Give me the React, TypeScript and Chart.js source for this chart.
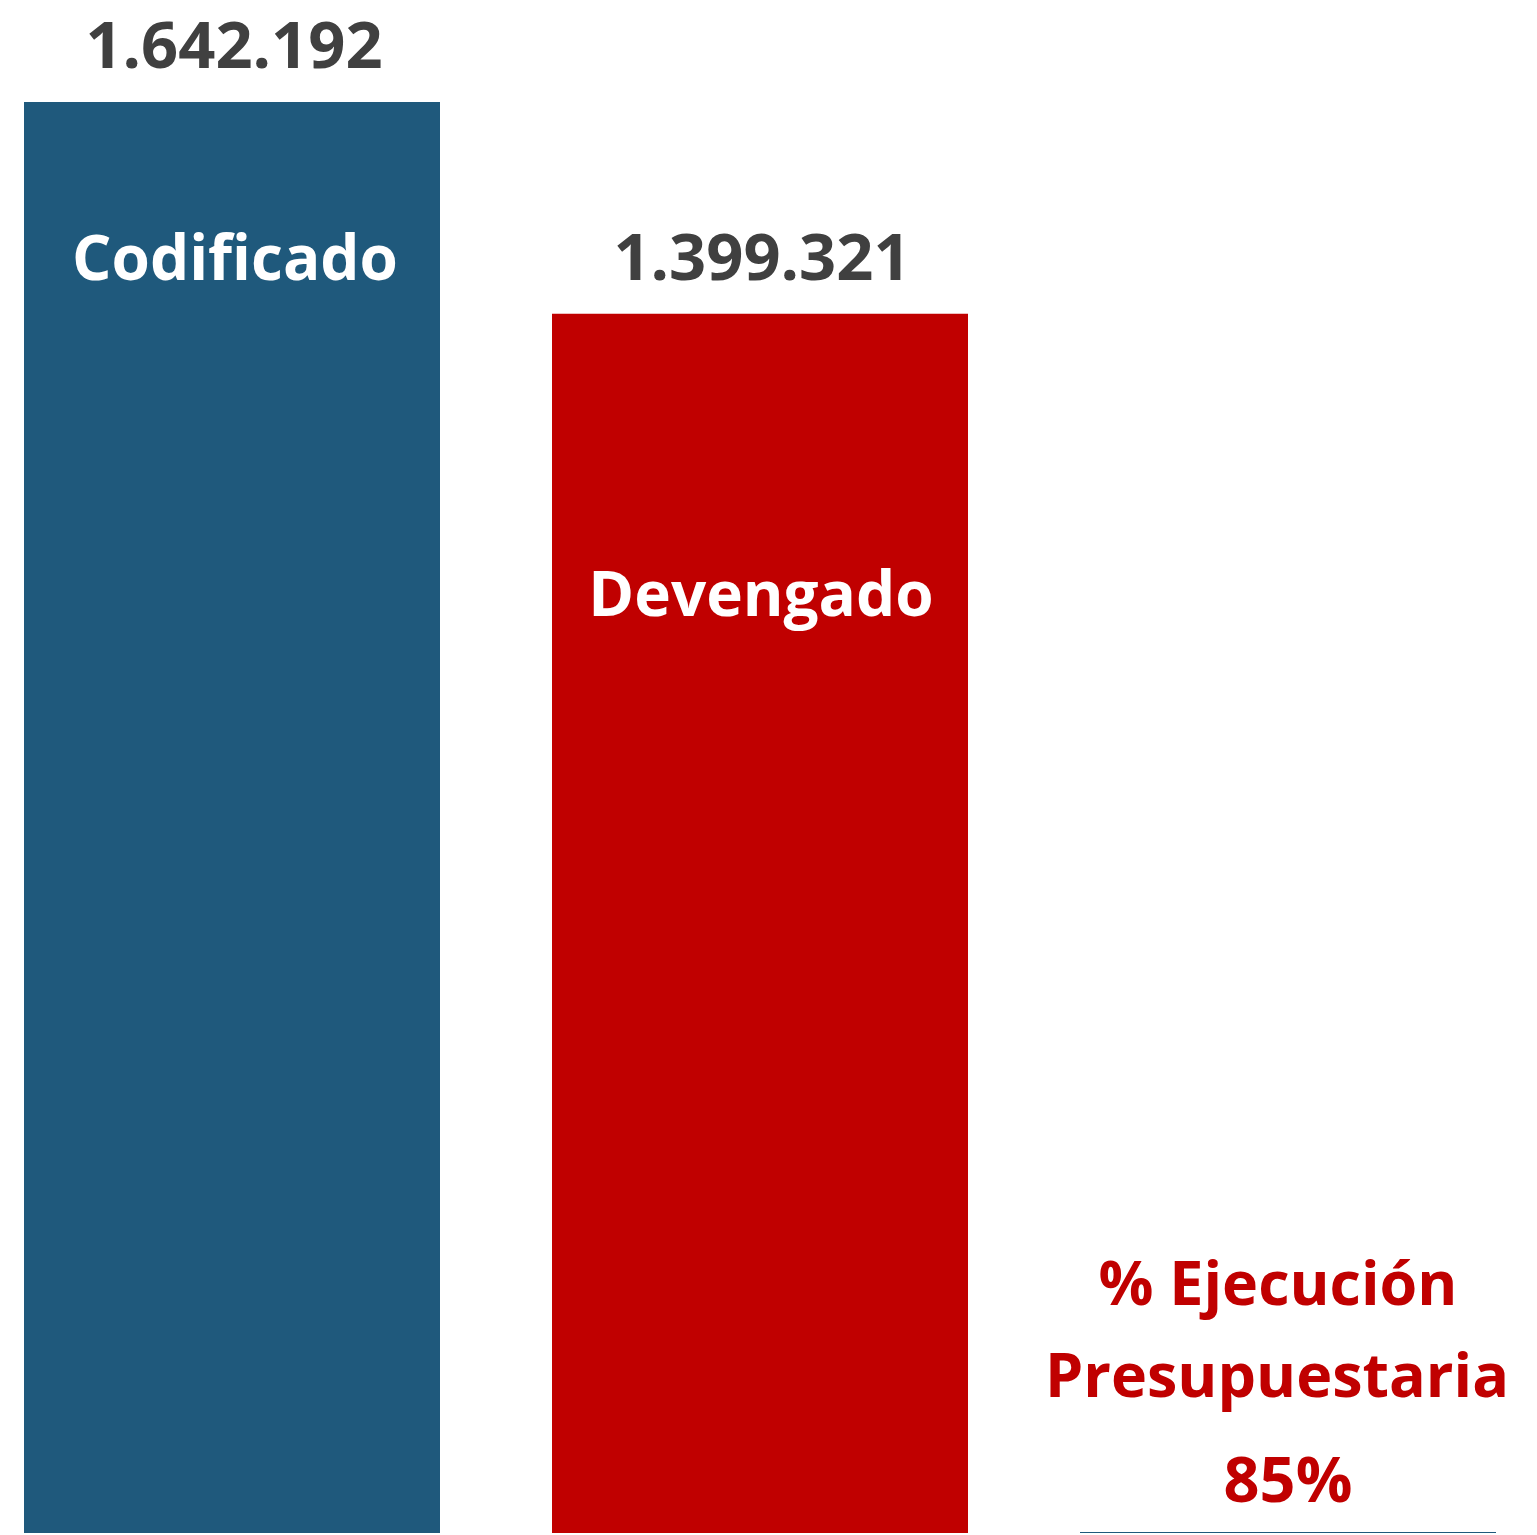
import React, { useEffect, useRef } from "react";
import { Chart, registerables } from "chart.js";

Chart.register(...registerables);

const categories = ["Codificado", "Devengado", "% Ejecución Presupuestaria"];
const values = [1642192, 1399321, 0.85];
const valueLabels = ["1.642.192", "1.399.321", "85%"];
const barColors = ["#1F597C", "#C00000", "#1F597C"];

const FONT = '"Open Sans", sans-serif';

const labelPlugin = {
  id: "labels",
  afterDatasetsDraw(chart: any) {
    const ctx = chart.ctx;
    const meta = chart.getDatasetMeta(0);
    ctx.save();
    ctx.textAlign = "center";
    ctx.textBaseline = "alphabetic";
    // value labels above first two bars
    for (let i = 0; i < 2; i++) {
      const el = meta.data[i];
      ctx.font = `bold 65px ${FONT}`;
      ctx.fillStyle = "#404040";
      ctx.fillText(valueLabels[i], el.x + 2, el.y - 34);
    }
    // category names inside bars
    ctx.font = `bold 62px ${FONT}`;
    ctx.fillStyle = "#FFFFFF";
    const b0 = meta.data[0];
    ctx.fillText(categories[0], b0.x + 3, b0.y + 178);
    const b1 = meta.data[1];
    ctx.font = `bold 62px ${FONT}`;
    ctx.fillText(categories[1], b1.x + 1, b1.y + 302);
    // third category text
    const b2 = meta.data[2];
    ctx.font = `bold 61px ${FONT}`;
    ctx.fillStyle = "#C00000";
    const bottom = chart.chartArea.bottom;
    ctx.fillText("% Ejecución", b2.x - 10, bottom - 228);
    ctx.fillText("Presupuestaria", b2.x - 11, bottom - 136);
    ctx.font = `bold 63px ${FONT}`;
    ctx.fillText(valueLabels[2], b2.x, bottom - 31);
    ctx.restore();
  },
};

export default function App() {
  const ref = useRef<HTMLCanvasElement>(null);
  useEffect(() => {
    if (!ref.current) return;
    const chart = new Chart(ref.current, {
      type: "bar",
      data: {
        labels: categories,
        datasets: [
          {
            data: values,
            backgroundColor: barColors,
            borderWidth: 0,
            minBarLength: 1,
            categoryPercentage: 1,
            barPercentage: 416 / 528,
          },
        ],
      },
      options: {
        animation: false,
        responsive: false,
        maintainAspectRatio: false,
        layout: { padding: { top: 0, bottom: 2, left: 0, right: 0 } },
        plugins: {
          legend: { display: false },
          tooltip: { enabled: false },
        },
        scales: {
          x: { display: false },
          y: { display: false, min: 0, max: 1759300 },
        },
      },
      plugins: [labelPlugin],
    });
    return () => chart.destroy();
  }, []);
  return (
    <div
      style={{
        position: "fixed",
        left: 0,
        top: 0,
        width: 1537,
        height: 1535,
        overflow: "hidden",
        background: "#FFFFFF",
      }}
    >
      <canvas
        ref={ref}
        width={1584}
        height={1535}
        style={{ position: "absolute", left: -32, top: 0, width: 1584, height: 1535 }}
      />
    </div>
  );
}
